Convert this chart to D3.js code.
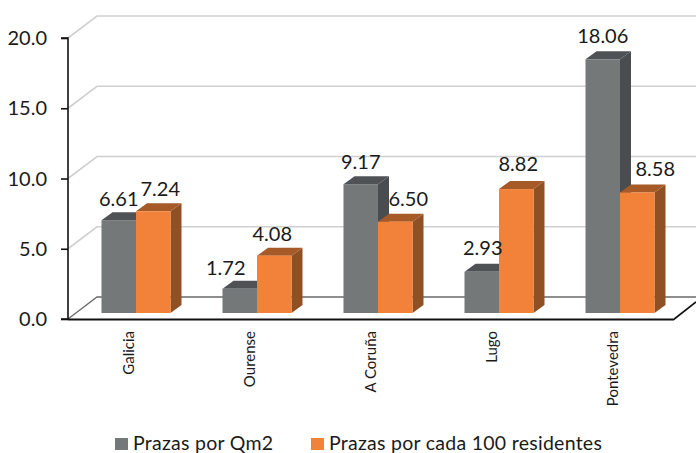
<!DOCTYPE html>
<html><head><meta charset="utf-8">
<script src="https://cdn.jsdelivr.net/npm/d3@7"></script>
<style>html,body{margin:0;padding:0;background:#fff}svg{display:block}text{font-family:"Lato","Open Sans",sans-serif;fill:#1a1a1a}</style>
</head><body><svg id="c" width="696" height="453"></svg>
<script>
const categories=["Galicia","Ourense","A Coruña","Lugo","Pontevedra"];
const seriesNames=["Prazas por Qm2","Prazas por cada 100 residentes"];
const prazasQm2=[6.61,1.72,9.17,2.93,18.06];
const prazas100=[7.24,4.08,6.50,8.82,8.58];
const yTicks=[0,5,10,15,20];
// per-label nudges (dx, dy) from the bar's default label spot
const nudgeQm2=[[0,0],[-14,0],[0,-1],[1,-3],[0,-2]];
const nudgeRes=[[7,-1],[-2,-1],[13,-2],[2,-4],[18,-2]];

const colors=[{f:"#757879",t:"#4f5254",s:"#4a4d4f"},{f:"#f2813a",t:"#a55a27",s:"#8f5024"}];
const svg=d3.select("#c");
const D={x:29,y:-22};      // wall depth
const B={x:11,y:-8};       // bar depth
const y=d3.scaleLinear().domain([0,20]).range([319,38]);
const x=d3.scaleBand().domain(categories).range([68,673]);
const barW=34.5;
const barBase=y(0)-6;

// walls
svg.append("g").selectAll("path").data(yTicks.filter(d=>d>0)).join("path")
 .attr("d",d=>`M68,${y(d)}L${68+D.x},${y(d)+D.y}L696,${y(d)+D.y}`)
 .attr("fill","none").attr("stroke","#d0d0d0").attr("stroke-width",1.6);
// floor
svg.append("path").attr("d",`M68,${y(0)}L${68+D.x},${y(0)+D.y}L696,${y(0)+D.y}`).attr("fill","none").attr("stroke","#6a6a6a").attr("stroke-width",1.3);
svg.append("path").attr("d",`M673,${y(0)+1}L696,${y(0)-17}`).attr("fill","none").attr("stroke","#111").attr("stroke-width",1.6);

// bars
const barY=v=>y(v)-6;
const groupLeft=c=>x(c)+x.bandwidth()/2-barW+7.5;
function bar(g,xl,v,c){
 const t=barY(v),r=xl+barW;
 g.append("path").attr("d",`M${r},${barBase}L${r+B.x},${barBase+B.y}L${r+B.x},${t+B.y}L${r},${t}Z`).attr("fill",c.s);
 g.append("path").attr("d",`M${xl},${t}L${xl+B.x},${t+B.y}L${r+B.x},${t+B.y}L${r},${t}Z`).attr("fill",c.t);
 g.append("rect").attr("x",xl).attr("y",t).attr("width",barW).attr("height",barBase-t).attr("fill",c.f);
}
const bars=svg.append("g");
categories.forEach((c,i)=>{
 const x0=groupLeft(c);
 bar(bars,x0,prazasQm2[i],colors[0]);
 bar(bars,x0+barW,prazas100[i],colors[1]);
});
// axes
const yAxis=d3.axisLeft(y).tickValues(yTicks).tickSize(7).tickPadding(14).tickFormat(d3.format(".1f"));
const ga=svg.append("g").attr("transform","translate(68,0)").call(yAxis);
ga.selectAll("path,line").attr("stroke","#111").attr("stroke-width",1.6);
ga.select(".domain").attr("d",`M-7,${y(20)}H0V${y(0)}H-7`);
ga.selectAll("text").attr("font-size",20).attr("dy","0.33em").style("font-family",'"Lato"');
svg.append("line").attr("x1",68).attr("x2",673).attr("y1",y(0)+0.5).attr("y2",y(0)+0.5).attr("stroke","#111").attr("stroke-width",2);

// value labels
const vals=svg.append("g").attr("font-size",20).attr("text-anchor","middle");
categories.forEach((c,i)=>{
 const x0=groupLeft(c);
 vals.append("text").attr("x",x0+barW/2+nudgeQm2[i][0]).attr("y",barY(prazasQm2[i])+B.y-6+nudgeQm2[i][1]).text(prazasQm2[i].toFixed(2));
 vals.append("text").attr("x",x0+barW*1.5+nudgeRes[i][0]).attr("y",barY(prazas100[i])+B.y-6+nudgeRes[i][1]).text(prazas100[i].toFixed(2));
});

// category labels
svg.append("g").selectAll("text").data(categories).join("text")
 .attr("transform",d=>`translate(${x(d)+x.bandwidth()/2+0.5},331) rotate(-90)`)
 .attr("text-anchor","end").attr("font-size",15).attr("dy","0.35em").text(d=>d);

// legend
const lx=[115,311];
const lg=svg.append("g");
seriesNames.forEach((n,i)=>{
 lg.append("rect").attr("x",lx[i]).attr("y",438).attr("width",13).attr("height",12).attr("fill",colors[i].f);
 lg.append("text").attr("x",lx[i]+18).attr("y",449.5).attr("font-size",19.5).attr("letter-spacing",0.27).text(n);
});
</script></body></html>
